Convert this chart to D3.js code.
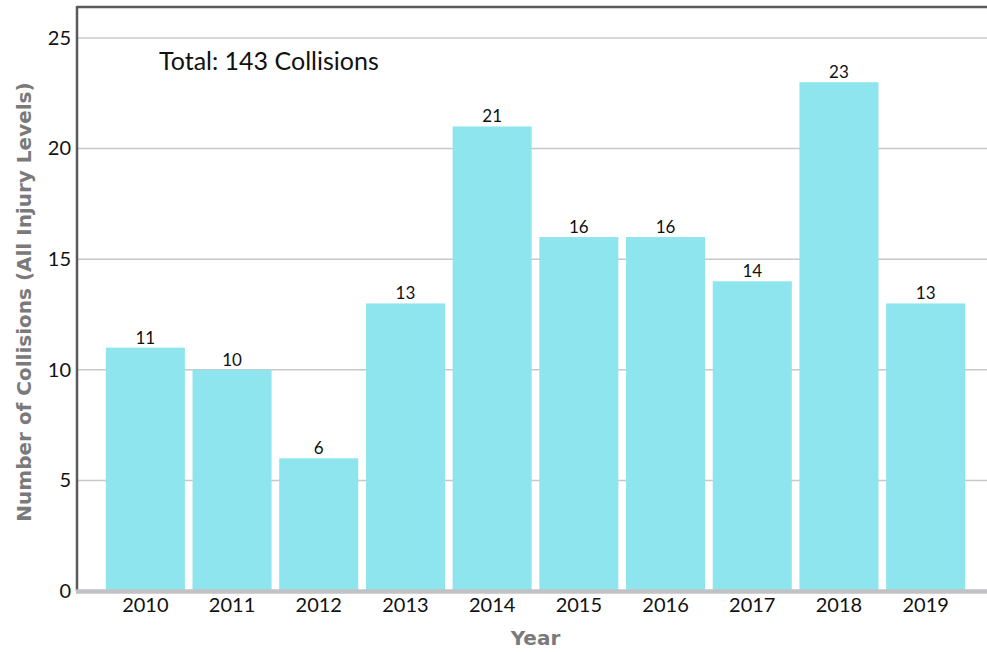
<!DOCTYPE html>
<html>
<head>
<meta charset="utf-8">
<script src="https://cdn.jsdelivr.net/npm/d3@7"></script>
<style>
  body { margin: 0; background: #fff; }
  text { font-family: "Century Gothic", Lato, "Open Sans", sans-serif; }
</style>
</head>
<body>
<div id="chart"></div>
<script>
// data
const years = ["2010", "2011", "2012", "2013", "2014", "2015", "2016", "2017", "2018", "2019"];
const collisions = [11, 10, 6, 13, 21, 16, 16, 14, 23, 13];
const yTicks = [0, 5, 10, 15, 20, 25];
const totalLabel = "Total: 143 Collisions";

const width = 987, height = 652;
const plot = { left: 77, right: 987, top: 7, bottom: 591 };

const svg = d3.select("#chart").append("svg")
    .attr("width", width)
    .attr("height", height);

const x = d3.scaleBand()
    .domain(years)
    .range([102, 969])
    .paddingInner(0.088)
    .paddingOuter(0.044);

const y = d3.scaleLinear()
    .domain([0, 26.4])
    .range([plot.bottom, plot.top]);

// gridlines
svg.append("g")
    .selectAll("line")
    .data(yTicks.filter(d => d > 0))
    .enter()
    .append("line")
    .attr("x1", plot.left)
    .attr("x2", plot.right)
    .attr("y1", d => y(d))
    .attr("y2", d => y(d))
    .attr("stroke", "#c8c8c8")
    .attr("stroke-width", 1.5);

// bars
svg.append("g")
    .selectAll("rect")
    .data(years)
    .enter()
    .append("rect")
    .attr("x", d => x(d))
    .attr("y", (d, i) => y(collisions[i]))
    .attr("width", x.bandwidth())
    .attr("height", (d, i) => y(0) - y(collisions[i]))
    .attr("fill", "#8ee5ed");

// value labels
svg.append("g")
    .selectAll("text")
    .data(years)
    .enter()
    .append("text")
    .attr("x", d => x(d) + x.bandwidth() / 2)
    .attr("y", (d, i) => y(collisions[i]) - 4)
    .attr("text-anchor", "middle")
    .attr("font-size", "17px")
    .attr("fill", "#111")
    .text((d, i) => collisions[i]);

// frame: top + left dark lines
svg.append("line")
    .attr("x1", plot.left).attr("x2", plot.right)
    .attr("y1", plot.top).attr("y2", plot.top)
    .attr("stroke", "#5a5a5a").attr("stroke-width", 2.5);
svg.append("line")
    .attr("x1", plot.left).attr("x2", plot.left)
    .attr("y1", plot.top - 1).attr("y2", plot.bottom)
    .attr("stroke", "#5a5a5a").attr("stroke-width", 2.5);

// x baseline
svg.append("line")
    .attr("x1", plot.left - 1).attr("x2", plot.right)
    .attr("y1", plot.bottom + 0.5).attr("y2", plot.bottom + 0.5)
    .attr("stroke", "#c2c2c6").attr("stroke-width", 4.5);

// y axis labels
const yAxis = svg.append("g")
    .attr("transform", "translate(" + (plot.left - 6) + ",0)")
    .call(d3.axisLeft(y).tickValues(yTicks).tickSize(0).tickPadding(0));
yAxis.select(".domain").remove();
yAxis.selectAll("text")
    .attr("font-size", "20px")
    .attr("fill", "#111")
    .style("font-family", "\"Century Gothic\", Lato, \"Open Sans\", sans-serif");

// x axis labels
const xAxis = svg.append("g")
    .attr("transform", "translate(0," + (plot.bottom + 4) + ")")
    .call(d3.axisBottom(x).tickSize(0).tickPadding(3));
xAxis.select(".domain").remove();
xAxis.selectAll("text")
    .attr("font-size", "20px")
    .attr("fill", "#111")
    .style("font-family", "\"Century Gothic\", Lato, \"Open Sans\", sans-serif");

// total annotation
svg.append("text")
    .attr("x", 159)
    .attr("y", 70)
    .attr("font-size", "25px")
    .attr("fill", "#111")
    .text(totalLabel);

// axis titles
svg.append("text")
    .attr("x", (x.range()[0] + x.range()[1]) / 2)
    .attr("y", 645)
    .attr("text-anchor", "middle")
    .attr("font-size", "20px")
    .attr("font-weight", "bold")
    .attr("fill", "#7a7a7a")
    .style("font-family", "\"DejaVu Sans\", sans-serif")
    .text("Year");

svg.append("text")
    .attr("transform", "translate(31," + ((plot.top + plot.bottom) / 2 + 3) + ") rotate(-90)")
    .attr("text-anchor", "middle")
    .attr("font-size", "20px")
    .attr("font-weight", "bold")
    .attr("fill", "#7a7a7a")
    .style("font-family", "\"DejaVu Sans\", sans-serif")
    .text("Number of Collisions (All Injury Levels)");
</script>
</body>
</html>
